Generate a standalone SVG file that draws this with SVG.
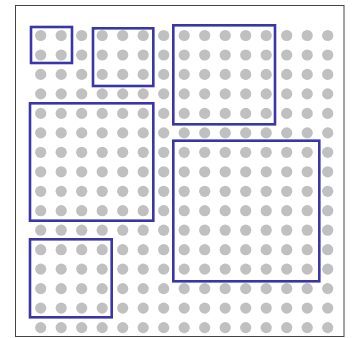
<svg xmlns="http://www.w3.org/2000/svg" xmlns:xlink="http://www.w3.org/1999/xlink" width="352" height="338" viewBox="0 0 352 338">
<style>
.dot{fill:#c0c0c0}
.box{fill:none;stroke:#3a36a8;stroke-width:2.6}
.frame{fill:#fff;stroke:#444;stroke-width:1}
</style>
<defs>
<g id="row">
<circle class="dot" cx="40.7" cy="0" r="5.6"/>
<circle class="dot" cx="61.2" cy="0" r="5.6"/>
<circle class="dot" cx="81.7" cy="0" r="5.6"/>
<circle class="dot" cx="102.2" cy="0" r="5.6"/>
<circle class="dot" cx="122.7" cy="0" r="5.6"/>
<circle class="dot" cx="143.2" cy="0" r="5.6"/>
<circle class="dot" cx="163.7" cy="0" r="5.6"/>
<circle class="dot" cx="184.2" cy="0" r="5.6"/>
<circle class="dot" cx="204.7" cy="0" r="5.6"/>
<circle class="dot" cx="225.2" cy="0" r="5.6"/>
<circle class="dot" cx="245.7" cy="0" r="5.6"/>
<circle class="dot" cx="266.2" cy="0" r="5.6"/>
<circle class="dot" cx="286.7" cy="0" r="5.6"/>
<circle class="dot" cx="307.2" cy="0" r="5.6"/>
<circle class="dot" cx="327.7" cy="0" r="5.6"/>
</g>
</defs>
<rect width="352" height="338" fill="#fff"/>
<rect class="frame" x="15.5" y="5.5" width="328.5" height="331"/>
<g id="grid">
<use xlink:href="#row" href="#row" y="35.5"/>
<use xlink:href="#row" href="#row" y="55.0"/>
<use xlink:href="#row" href="#row" y="74.4"/>
<use xlink:href="#row" href="#row" y="93.9"/>
<use xlink:href="#row" href="#row" y="113.4"/>
<use xlink:href="#row" href="#row" y="132.9"/>
<use xlink:href="#row" href="#row" y="152.3"/>
<use xlink:href="#row" href="#row" y="171.8"/>
<use xlink:href="#row" href="#row" y="191.3"/>
<use xlink:href="#row" href="#row" y="210.7"/>
<use xlink:href="#row" href="#row" y="230.2"/>
<use xlink:href="#row" href="#row" y="249.7"/>
<use xlink:href="#row" href="#row" y="269.1"/>
<use xlink:href="#row" href="#row" y="288.6"/>
<use xlink:href="#row" href="#row" y="308.1"/>
<use xlink:href="#row" href="#row" y="327.6"/>
</g>
<g id="box1"><rect class="box" x="31" y="27" width="41" height="36"/></g>
<g id="box2"><rect class="box" x="93" y="28.3" width="60.3" height="57.7"/></g>
<g id="box3"><rect class="box" x="173.3" y="25.3" width="101.7" height="99"/></g>
<g id="box4"><rect class="box" x="30" y="103.3" width="123.3" height="117.4"/></g>
<g id="box5"><rect class="box" x="173.3" y="140.7" width="146" height="140.6"/></g>
<g id="box6"><rect class="box" x="30" y="239.3" width="81.7" height="78"/></g>
<g id="connectors"/>
</svg>
